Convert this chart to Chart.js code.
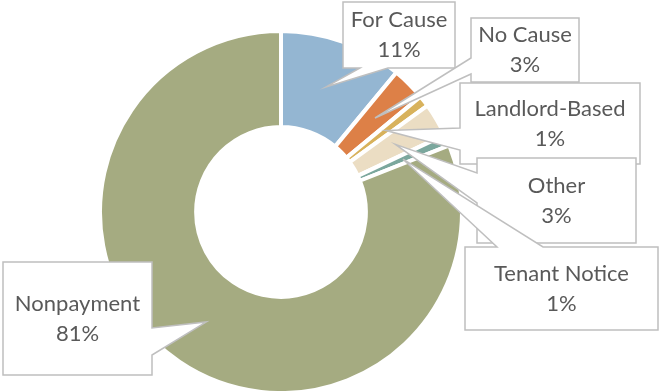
<!DOCTYPE html>
<html>
<head>
<meta charset="utf-8">
<script src="https://cdn.jsdelivr.net/npm/chart.js@4"></script>
<style>
  body { margin: 0; background: #fff; }
  canvas { display: block; }
</style>
</head>
<body>
<canvas id="grafico" width="659" height="391"></canvas>
<script>
// data
const categorias = ['For Cause', 'No Cause', 'Landlord-Based', 'Other', 'Tenant Notice', 'Nonpayment'];
const percentuais = [11, 3, 1, 3, 1, 81];
const cores = ['#94B6D2', '#DD8047', '#D8B25C', '#EBDDC3', '#7BA79D', '#A5AB81'];

// callout boxes: box rect + which side the pointer leaves from and where
const caixas = [
  { x: 343, y: 2,   w: 112, h: 66,  lado: 'bottom', a: 360, b: 388 },
  { x: 471, y: 18,  w: 108, h: 64,  lado: 'left',   a: 58,  b: 74 },
  { x: 460, y: 83,  w: 180, h: 81,  lado: 'left',   a: 128, b: 150 },
  { x: 477, y: 158, w: 159, h: 85,  lado: 'left',   a: 173, b: 203 },
  { x: 465, y: 247, w: 193, h: 83,  lado: 'top',    a: 497, b: 543 },
  { x: 3,   y: 262, w: 149, h: 113, lado: 'right',  a: 328, b: 355 }
];

function caminhoCaixa(ctx, c, tip) {
  const x0 = c.x, y0 = c.y, x1 = c.x + c.w, y1 = c.y + c.h;
  ctx.beginPath();
  ctx.moveTo(x0, y0);
  if (c.lado === 'top') { ctx.lineTo(c.a, y0); ctx.lineTo(tip.x, tip.y); ctx.lineTo(c.b, y0); }
  ctx.lineTo(x1, y0);
  if (c.lado === 'right') { ctx.lineTo(x1, c.a); ctx.lineTo(tip.x, tip.y); ctx.lineTo(x1, c.b); }
  ctx.lineTo(x1, y1);
  if (c.lado === 'bottom') { ctx.lineTo(c.b, y1); ctx.lineTo(tip.x, tip.y); ctx.lineTo(c.a, y1); }
  ctx.lineTo(x0, y1);
  if (c.lado === 'left') { ctx.lineTo(x0, c.b); ctx.lineTo(tip.x, tip.y); ctx.lineTo(x0, c.a); }
  ctx.closePath();
}

const rotulos = {
  id: 'rotulos',
  afterDraw(chart) {
    const ctx = chart.ctx;
    const meta = chart.getDatasetMeta(0);
    ctx.save();
    caixas.forEach((c, i) => {
      const tip = meta.data[i].tooltipPosition();
      caminhoCaixa(ctx, c, tip);
      ctx.fillStyle = '#fff';
      ctx.fill();
      ctx.strokeStyle = '#BFBFBF';
      ctx.lineWidth = 1.5;
      ctx.lineJoin = 'miter';
      ctx.stroke();
      ctx.fillStyle = '#595959';
      ctx.font = '22px Lato';
      ctx.textAlign = 'center';
      ctx.textBaseline = 'middle';
      const cx = c.x + c.w / 2, cy = c.y + c.h / 2;
      ctx.fillText(categorias[i], cx, cy - 15);
      ctx.fillText(percentuais[i] + '%', cx, cy + 15);
    });
    ctx.restore();
  }
};

new Chart(document.getElementById('grafico'), {
  type: 'doughnut',
  data: {
    labels: categorias,
    datasets: [{
      data: percentuais,
      backgroundColor: cores,
      borderColor: '#fff',
      borderWidth: 4
    }]
  },
  options: {
    responsive: false,
    animation: false,
    radius: 181,
    cutout: 83,
    layout: { padding: { left: 0, right: 97, top: 33, bottom: 0 } },
    plugins: {
      legend: { display: false },
      tooltip: { enabled: false }
    }
  },
  plugins: [rotulos]
});
</script>
</body>
</html>
